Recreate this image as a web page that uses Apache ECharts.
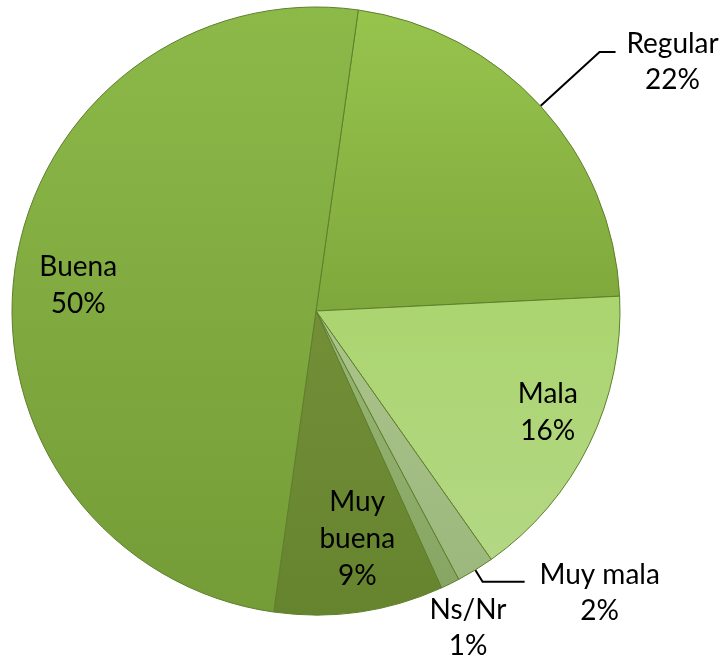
<!DOCTYPE html>
<html>
<head>
<meta charset="utf-8">
<script src="https://cdn.jsdelivr.net/npm/echarts@6/dist/echarts.min.js"></script>
<style>
html,body{margin:0;padding:0;background:#fff;}
#main{width:726px;height:664px;}
</style>
</head>
<body>
<div id="main"></div>
<script>
// datos del gráfico
var categorias = ['Regular', 'Mala', 'Muy mala', 'Ns/Nr', 'Muy buena', 'Buena'];
var valores = [22, 16, 2, 1, 9, 50];
var coloresArriba = ['#97c44d', '#abd56f', '#aac48c', '#98b673', '#738f38', '#8db949'];
var coloresAbajo = ['#7fa83c', '#b3d784', '#9db87d', '#88a663', '#66832e', '#749c37'];
var etiquetasDentro = ['Mala', 'Muy buena', 'Buena'];

var myChart = echarts.init(document.getElementById('main'));

var fuente = 'Lato';
var centro = [316, 311];
var radio = 304;

function grad(i) {
    return new echarts.graphic.LinearGradient(0, 0, 0, 1, [
        {offset: 0, color: coloresArriba[i]},
        {offset: 1, color: coloresAbajo[i]}
    ]);
}

var datos = [];
var datosEtiq = [];
for (var i = 0; i < categorias.length; i++) {
    var nombre = categorias[i];
    var dentro = etiquetasDentro.indexOf(nombre) >= 0;
    var item = {
        name: nombre,
        value: valores[i],
        itemStyle: {color: grad(i)},
        label: {show: !dentro},
        labelLine: {show: nombre == 'Regular' || nombre == 'Muy mala'}
    };
    if (nombre == 'Regular') {
        item.labelLine.length = 80;
        item.labelLine.length2 = 16;
        item.label.padding = [20, 0, 0, 0];
    }
    if (nombre == 'Muy mala') {
        item.labelLine.length = 14;
        item.labelLine.length2 = 42;
        item.label.padding = [22, 0, 0, 0];
    }
    datos.push(item);
    datosEtiq.push({
        name: nombre,
        value: valores[i],
        label: {show: dentro}
    });
}

var estiloTexto = {fontFamily: fuente, fontSize: 28, color: '#000', align: 'center', lineHeight: 36};

var option = {
    backgroundColor: '#ffffff',
    animation: false,
    series: [
        {
            type: 'pie',
            center: centro,
            radius: [0, radio],
            startAngle: 82,
            clockwise: true,
            avoidLabelOverlap: false,
            data: datos,
            itemStyle: {borderColor: '#5f7f2c', borderWidth: 1},
            label: {
                position: 'outside',
                formatter: function (p) {
                    var s = p.name == 'Muy mala' ? 'b' : 'a';
                    return '{' + s + '|' + p.name + '}\n{' + s + '|' + p.value + '%}';
                },
                rich: {
                    a: Object.assign({width: 104}, estiloTexto),
                    b: Object.assign({width: 140}, estiloTexto)
                }
            },
            labelLine: {lineStyle: {color: '#000', width: 2}, smooth: false},
            labelLayout: function (p) {
                if (p.dataIndex == 3) {
                    return {x: 468, y: 628, align: 'center', verticalAlign: 'middle'};
                }
            },
            emphasis: {disabled: true}
        },
        {
            type: 'pie',
            center: centro,
            radius: [radio * 0.56, radio],
            startAngle: 82,
            clockwise: true,
            silent: true,
            data: datosEtiq,
            itemStyle: {color: 'rgba(0,0,0,0)'},
            label: {
                position: 'inner',
                formatter: function (p) {
                    var n = p.name == 'Muy buena' ? 'Muy\nbuena' : p.name;
                    return n + '\n' + p.value + '%';
                },
                fontFamily: fuente,
                fontSize: 28,
                lineHeight: 37,
                color: '#000'
            },
            labelLine: {show: false},
            labelLayout: function (p) {
                if (p.dataIndex == 1) return {dx: 16, dy: -4};
                if (p.dataIndex == 4) return {dx: 7, dy: -10};
                if (p.dataIndex == 5) return {dx: 0, dy: 8};
            }
        }
    ]
};

myChart.setOption(option);
</script>
</body>
</html>
